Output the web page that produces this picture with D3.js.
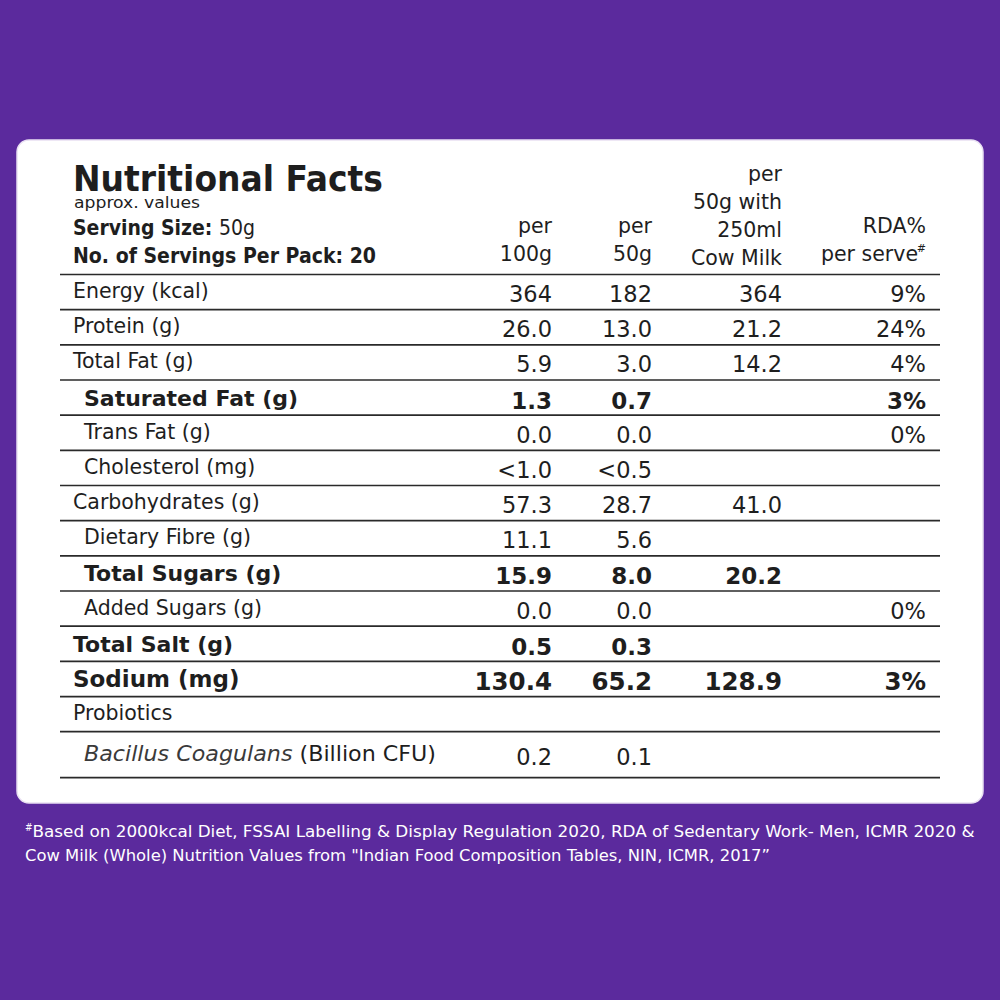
<!DOCTYPE html>
<html>
<head>
<meta charset="utf-8">
<script src="https://cdn.jsdelivr.net/npm/d3@7"></script>
<style>
  html, body { margin: 0; padding: 0; background: #5b2a9d; }
  svg { display: block; }
</style>
</head>
<body>
<div class="chart"></div>
<script>
const nutrients = ["Energy (kcal)", "Protein (g)", "Total Fat (g)", "Saturated Fat (g)", "Trans Fat (g)",
  "Cholesterol (mg)", "Carbohydrates (g)", "Dietary Fibre (g)", "Total Sugars (g)", "Added Sugars (g)",
  "Total Salt (g)", "Sodium (mg)", "Probiotics", "Bacillus Coagulans (Billion CFU)"]
const per100g = ["364", "26.0", "5.9", "1.3", "0.0", "<1.0", "57.3", "11.1", "15.9", "0.0", "0.5", "130.4", "", "0.2"]
const per50g = ["182", "13.0", "3.0", "0.7", "0.0", "<0.5", "28.7", "5.6", "8.0", "0.0", "0.3", "65.2", "", "0.1"]
const withMilk = ["364", "21.2", "14.2", "", "", "", "41.0", "", "20.2", "", "", "128.9", "", ""]
const rdaPct = ["9%", "24%", "4%", "3%", "0%", "", "", "", "", "0%", "", "3%", "", ""]

const boldRows = ["Saturated Fat (g)", "Total Sugars (g)", "Total Salt (g)", "Sodium (mg)"]
const subRows = ["Saturated Fat (g)", "Trans Fat (g)", "Cholesterol (mg)", "Dietary Fibre (g)",
  "Total Sugars (g)", "Added Sugars (g)", "Bacillus Coagulans (Billion CFU)"]
const italicPart = "Bacillus Coagulans"

const headers = [["per", "100g"], ["per", "50g"], ["per", "50g with", "250ml", "Cow Milk"], ["RDA%", "per serve"]]
const footnote = [
  "Based on 2000kcal Diet, FSSAI Labelling & Display Regulation 2020, RDA of Sedentary Work- Men, ICMR 2020 &",
  "Cow Milk (Whole) Nutrition Values from \"Indian Food Composition Tables, NIN, ICMR, 2017\u201D"
]

const columns = [per100g, per50g, withMilk, rdaPct]

const svg = d3.select(".chart").append("svg")
  .attr("width", 1000)
  .attr("height", 1000)

svg.append("rect").attr("width", 1000).attr("height", 1000).attr("fill", "#5b2a9d")

// white card
svg.append("rect")
  .attr("x", 17).attr("y", 140)
  .attr("width", 966).attr("height", 663)
  .attr("rx", 12)
  .attr("fill", "#fff")
  .attr("stroke", "#e9e0f2")
  .attr("stroke-width", 1.5)

const ink = "#1e1e1e"
const bodyFont = "'DejaVu Sans', sans-serif"
const condFont = "'DejaVu Sans Condensed', 'DejaVu Sans', sans-serif"

const left = 60, right = 940

// column right edges
const x = d3.scaleOrdinal()
  .domain(d3.range(columns.length))
  .range([552, 652, 782, 926])

// row tops; last row is taller
const y = d3.scaleLinear()
  .domain([0, nutrients.length - 1])
  .range([274.5, 731.7])
const rowTop = i => y(i)
const rowBottom = i => i === nutrients.length - 1 ? y(i) + 46 : y(i + 1)
const rowMid = i => (rowTop(i) + rowBottom(i)) / 2
const isBold = d => boldRows.includes(d)
const bigRow = "Sodium (mg)"

// title block
const g = svg.append("g").attr("fill", ink)

g.append("text")
  .attr("x", 73).attr("y", 191)
  .attr("font-family", condFont)
  .attr("font-weight", "bold")
  .attr("font-size", 36)
  .attr("textLength", 310)
  .attr("lengthAdjust", "spacingAndGlyphs")
  .text("Nutritional Facts")

g.append("text")
  .attr("x", 74).attr("y", 208)
  .attr("font-family", condFont)
  .attr("font-size", 16)
  .attr("textLength", 126)
  .attr("lengthAdjust", "spacingAndGlyphs")
  .text("approx. values")

const serv = g.append("text")
  .attr("x", 73).attr("y", 235)
  .attr("font-family", condFont)
  .attr("font-size", 20.5)
  .attr("textLength", 182)
  .attr("lengthAdjust", "spacingAndGlyphs")
serv.append("tspan").attr("font-weight", "bold").text("Serving Size: ")
serv.append("tspan").text("50g")

g.append("text")
  .attr("x", 73).attr("y", 263)
  .attr("font-family", condFont)
  .attr("font-weight", "bold")
  .attr("font-size", 21)
  .attr("textLength", 303)
  .attr("lengthAdjust", "spacingAndGlyphs")
  .text("No. of Servings Per Pack: 20")

// column headers, stacked from the bottom up
headers.forEach((lines, c) => {
  const base = c === 2 ? 265 : 261
  const t = g.append("text")
    .attr("text-anchor", "end")
    .attr("font-family", bodyFont)
    .attr("font-size", 20.5)
  lines.forEach((ln, k) => {
    const ts = t.append("tspan")
      .attr("x", x(c))
      .attr("y", base - (lines.length - 1 - k) * 28)
      .text(ln)
    if (c === 3 && k === 1) {
      ts.attr("dx", -8)
      t.append("tspan").attr("x", x(c)).attr("dy", -9).attr("font-size", 11).text("#")
    }
  })
})

// rules
svg.append("g").selectAll("line")
  .data(d3.range(-1, nutrients.length))
  .join("line")
  .attr("x1", left).attr("x2", right)
  .attr("y1", i => i < 0 ? rowTop(0) : rowBottom(i))
  .attr("y2", i => i < 0 ? rowTop(0) : rowBottom(i))
  .attr("stroke", "#2a2a2a")
  .attr("stroke-width", 1.7)

// row labels
const labels = g.selectAll(".label")
  .data(nutrients)
  .join("text")
  .attr("class", "label")
  .attr("x", d => subRows.includes(d) ? 84 : 73)
  .attr("y", (d, i) => rowMid(i) + (isBold(d) ? 8 : 6))
  .attr("font-family", bodyFont)
  .attr("font-size", d => d === bigRow ? 23 : isBold(d) ? 22 : 20.5)
  .attr("font-weight", d => isBold(d) ? "bold" : "normal")

labels.each(function(d) {
  const t = d3.select(this)
  if (d.startsWith(italicPart)) {
    t.attr("textLength", 352).attr("lengthAdjust", "spacingAndGlyphs")
    t.append("tspan").attr("font-style", "italic").attr("fill", "#3a3a3a").text(italicPart)
    t.append("tspan").text(d.slice(italicPart.length))
  } else {
    t.text(d)
  }
})

// values
columns.forEach((vals, c) => {
  g.append("g").selectAll("text")
    .data(vals)
    .join("text")
    .attr("x", x(c))
    .attr("y", (d, i) => rowMid(i) + (isBold(nutrients[i]) ? 11 : 10))
    .attr("text-anchor", "end")
    .attr("font-family", bodyFont)
    .attr("font-size", (d, i) => nutrients[i] === bigRow ? 24.5 : isBold(nutrients[i]) ? 23 : 22.5)
    .attr("font-weight", (d, i) => isBold(nutrients[i]) ? "bold" : "normal")
    .text(d => d)
})

// footnote
const fn = svg.append("g").attr("fill", "#fff")
  .attr("font-family", condFont)
  .attr("font-size", 16.5)
const f1 = fn.append("text").attr("x", 25).attr("y", 837)
f1.append("tspan").attr("font-size", 10).attr("dy", -6).text("#")
f1.append("tspan").attr("dy", 6)
  .attr("textLength", 942).attr("lengthAdjust", "spacingAndGlyphs")
  .text(footnote[0])
fn.append("text").attr("x", 25).attr("y", 861)
  .attr("textLength", 745).attr("lengthAdjust", "spacingAndGlyphs")
  .text(footnote[1])
</script>
</body>
</html>
